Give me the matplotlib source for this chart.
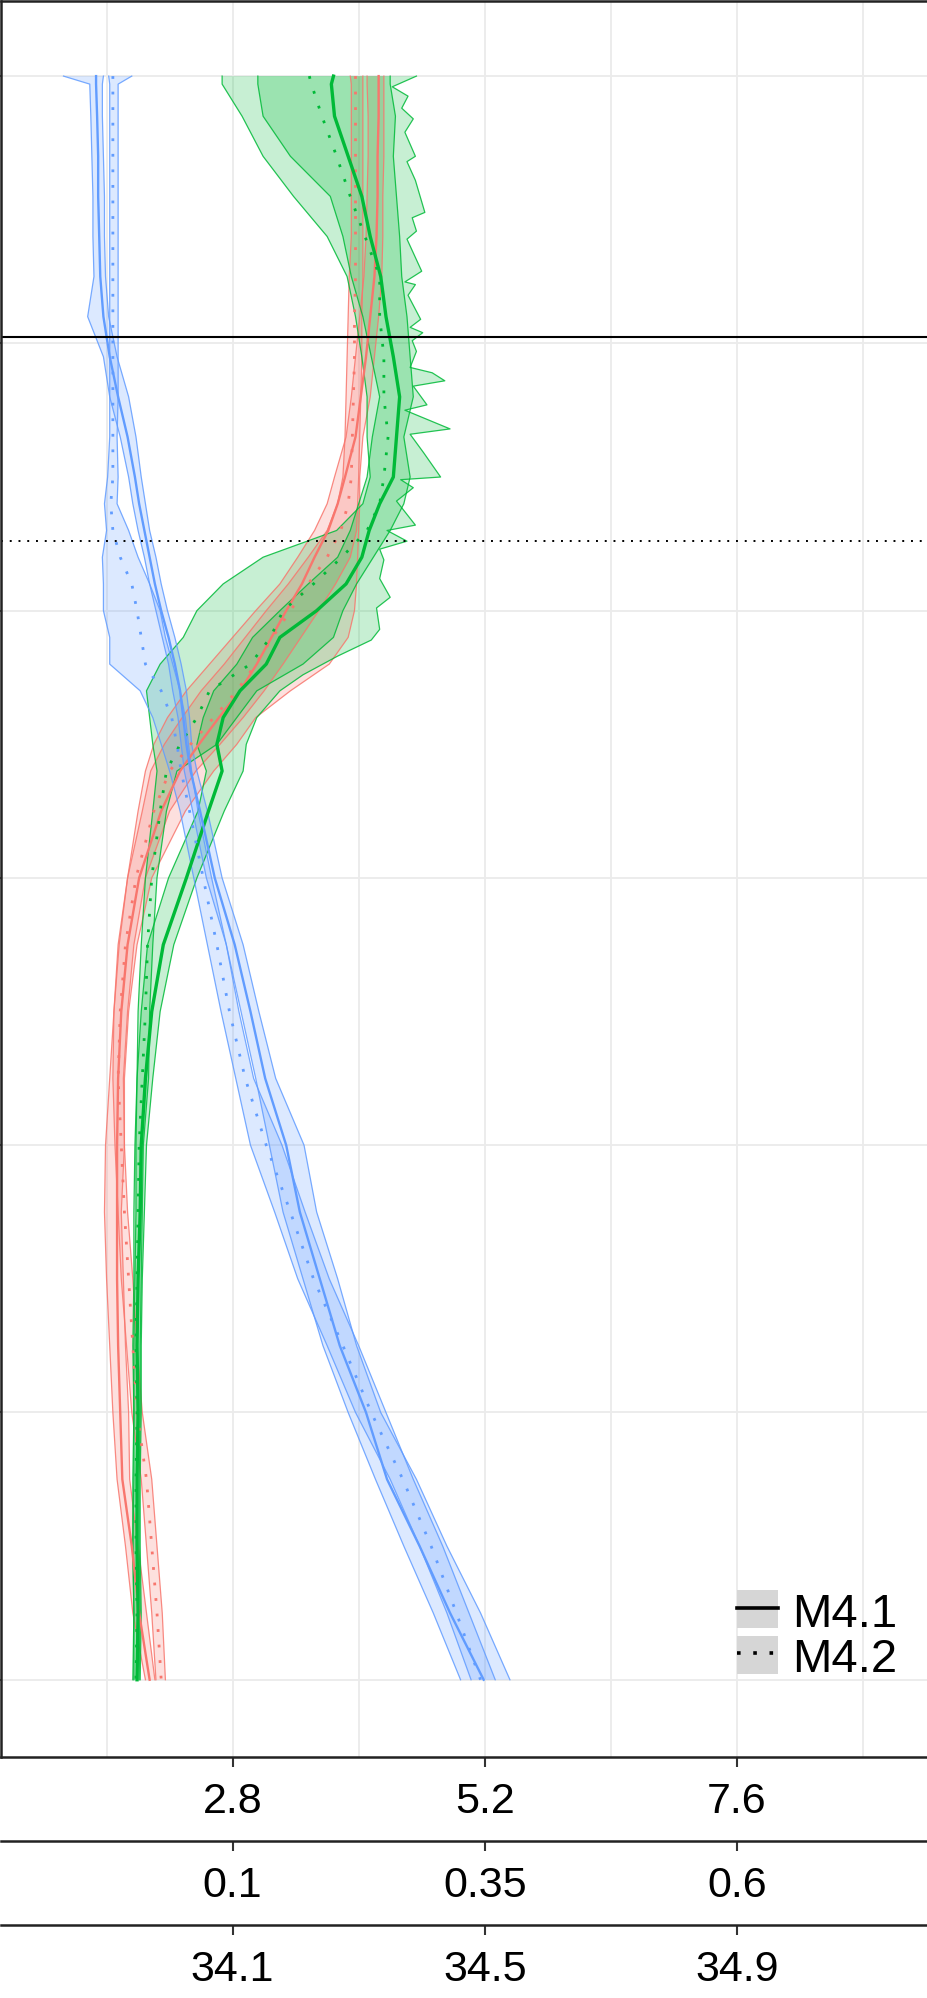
import matplotlib.pyplot as plt
from matplotlib.lines import Line2D
from matplotlib.patches import Patch

plt.rcParams['font.family'] = ['Liberation Sans', 'DejaVu Sans']

# depth in grid units (0 = top of profile, 6 = bottom)
depth = [0, 0.03, 0.15, 0.3, 0.45, 0.6, 0.75, 0.9, 1.05, 1.2, 1.35, 1.5, 1.6, 1.7, 1.8,
         1.9, 2.0, 2.1, 2.2, 2.3, 2.4, 2.5, 2.6, 2.75, 3.0, 3.25, 3.5, 3.75, 4.0, 4.25,
         4.5, 4.75, 5.0, 5.25, 5.5, 5.75, 6.0]

# values on the first (2.8 / 5.2 / 7.6) scale
red_m41 = [4.19, 4.19, 4.19, 4.18, 4.18, 4.17, 4.15, 4.11, 4.07, 4.02, 3.97, 3.87, 3.80, 3.71, 3.58,
           3.46, 3.31, 3.17, 3.03, 2.87, 2.67, 2.48, 2.30, 2.12, 1.91, 1.80, 1.74, 1.71, 1.70, 1.70,
           1.70, 1.71, 1.73, 1.75, 1.84, 1.91, 2.01]
red_m41_lo = [4.08, 4.08, 4.09, 4.09, 4.08, 4.07, 4.05, 4.01, 3.97, 3.93, 3.88, 3.77, 3.70, 3.58, 3.42,
              3.25, 3.02, 2.80, 2.58, 2.36, 2.18, 2.05, 1.97, 1.90, 1.80, 1.72, 1.67, 1.63, 1.59, 1.58,
              1.60, 1.63, 1.66, 1.70, 1.78, 1.85, 1.97]
red_m41_hi = [4.24, 4.24, 4.24, 4.24, 4.23, 4.23, 4.22, 4.19, 4.15, 4.11, 4.04, 4.01, 4.01, 4.00, 3.99,
              3.98, 3.96, 3.90, 3.72, 3.35, 3.02, 2.84, 2.62, 2.35, 2.03, 1.89, 1.81, 1.77, 1.77, 1.74,
              1.76, 1.78, 1.81, 1.82, 1.90, 1.98, 2.06]
red_m42 = [3.97, 3.97, 3.97, 3.97, 3.97, 3.97, 3.97, 3.96, 3.96, 3.95, 3.94, 3.93, 3.90, 3.83, 3.70,
           3.52, 3.35, 3.18, 3.02, 2.84, 2.62, 2.40, 2.20, 2.05, 1.88, 1.78, 1.73, 1.71, 1.74, 1.77,
           1.81, 1.85, 1.89, 1.98, 2.03, 2.08, 2.12]
red_m42_lo = [3.92, 3.93, 3.93, 3.93, 3.93, 3.93, 3.91, 3.90, 3.89, 3.88, 3.87, 3.85, 3.80, 3.70, 3.52,
              3.33, 3.12, 2.92, 2.72, 2.50, 2.32, 2.15, 2.02, 1.94, 1.80, 1.71, 1.67, 1.66, 1.68, 1.71,
              1.74, 1.79, 1.84, 1.93, 1.98, 2.03, 2.07]
red_m42_hi = [4.04, 4.04, 4.04, 4.04, 4.04, 4.04, 4.04, 4.03, 4.03, 4.02, 4.01, 4.00, 3.99, 3.98, 3.92,
              3.78, 3.62, 3.45, 3.28, 3.10, 2.90, 2.68, 2.45, 2.20, 1.97, 1.86, 1.80, 1.76, 1.77, 1.80,
              1.85, 1.89, 1.94, 2.03, 2.08, 2.13, 2.16]

green_m41 = [3.76, 3.74, 3.77, 3.90, 4.03, 4.11, 4.21, 4.26, 4.33, 4.39, 4.36, 4.33, 4.20, 4.10, 4.03,
             3.88, 3.60, 3.25, 3.12, 2.87, 2.71, 2.65, 2.70, 2.57, 2.36, 2.14, 2.03, 1.97, 1.93, 1.92,
             1.90, 1.89, 1.90, 1.89, 1.89, 1.90, 1.89]
green_m41_lo = [3.04, 3.04, 3.09, 3.35, 3.73, 3.85, 3.93, 4.04, 4.12, 4.20, 4.13, 4.08, 4.00, 3.92, 3.80,
                3.52, 3.25, 2.99, 2.84, 2.62, 2.52, 2.46, 2.55, 2.47, 2.19, 1.99, 1.93, 1.89, 1.88, 1.88,
                1.87, 1.86, 1.86, 1.86, 1.85, 1.86, 1.86]
# the spiky outer edge of the M4.1 green band has its own, finer depth steps
green_m41_hi_depth = [0.0, 0.04, 0.075, 0.12, 0.16, 0.21, 0.30, 0.32, 0.39, 0.51, 0.53, 0.58, 0.61,
                      0.73, 0.77, 0.78, 0.82, 0.91, 0.94, 0.96, 0.99, 1.03, 1.09, 1.11, 1.14, 1.16,
                      1.23, 1.25, 1.32, 1.34, 1.41, 1.50, 1.51, 1.54, 1.59, 1.68, 1.70, 1.74, 1.77,
                      1.81, 1.88, 1.95, 1.99, 2.07, 2.11, 2.17, 2.24, 2.3, 2.4, 2.5, 2.6, 2.75, 3.0,
                      3.25, 3.5, 3.75, 4.0, 4.25, 4.5, 4.75, 5.0, 5.25, 5.5, 5.75, 6.0]
green_m41_hi = [4.55, 4.32, 4.47, 4.41, 4.52, 4.44, 4.54, 4.46, 4.54, 4.63, 4.51, 4.55, 4.46,
                4.60, 4.44, 4.54, 4.47, 4.59, 4.49, 4.61, 4.51, 4.55, 4.49, 4.70, 4.82, 4.52,
                4.65, 4.44, 4.87, 4.49, 4.62, 4.78, 4.40, 4.52, 4.36, 4.54, 4.27, 4.46, 4.20,
                4.24, 4.20, 4.30, 4.17, 4.20, 4.12, 3.80, 3.47, 3.25, 3.03, 2.93, 2.90, 2.72, 2.46,
                2.24, 2.11, 2.04, 1.98, 1.96, 1.94, 1.93, 1.93, 1.92, 1.92, 1.93, 1.92]
green_m42 = [3.53, 3.55, 3.65, 3.79, 3.92, 4.06, 4.20, 4.20, 4.24, 4.24, 4.28, 4.24, 4.20, 4.08, 3.84,
             3.57, 3.28, 3.16, 2.97, 2.58, 2.46, 2.30, 2.17, 2.11, 2.03, 1.99, 1.97, 1.94, 1.91, 1.90,
             1.89, 1.88, 1.89, 1.88, 1.88, 1.89, 1.88]
green_m42_lo = [2.70, 2.70, 2.89, 3.09, 3.38, 3.70, 3.89, 3.97, 4.03, 4.08, 4.08, 4.11, 4.04, 3.79, 3.09,
                2.71, 2.46, 2.33, 2.11, 1.98, 2.01, 2.04, 2.08, 2.04, 1.97, 1.93, 1.90, 1.89, 1.87, 1.86,
                1.86, 1.85, 1.86, 1.85, 1.85, 1.86, 1.85]
green_m42_hi = [4.30, 4.30, 4.35, 4.33, 4.36, 4.39, 4.41, 4.46, 4.49, 4.52, 4.43, 4.49, 4.43, 4.30, 4.14,
                3.98, 3.85, 3.76, 3.47, 3.03, 2.84, 2.65, 2.27, 2.17, 2.08, 2.04, 2.01, 2.00, 1.95, 1.94,
                1.93, 1.92, 1.92, 1.91, 1.91, 1.92, 1.91]

blue_m41 = [1.50, 1.50, 1.51, 1.52, 1.52, 1.53, 1.54, 1.57, 1.63, 1.71, 1.80, 1.87, 1.91, 1.96, 2.01,
            2.06, 2.12, 2.19, 2.25, 2.30, 2.33, 2.36, 2.40, 2.49, 2.63, 2.82, 2.97, 3.11, 3.31, 3.44,
            3.63, 3.82, 4.07, 4.27, 4.58, 4.87, 5.19]
blue_m41_lo = [1.19, 1.44, 1.45, 1.46, 1.47, 1.47, 1.48, 1.42, 1.57, 1.63, 1.73, 1.81, 1.85, 1.90, 1.96,
               2.01, 2.07, 2.13, 2.19, 2.23, 2.28, 2.31, 2.34, 2.42, 2.55, 2.74, 2.88, 3.02, 3.15, 3.28,
               3.47, 3.66, 3.90, 4.16, 4.43, 4.71, 4.97]
blue_m41_hi = [1.57, 1.56, 1.56, 1.57, 1.58, 1.58, 1.59, 1.62, 1.70, 1.81, 1.88, 1.93, 1.97, 2.01, 2.07,
               2.12, 2.18, 2.25, 2.31, 2.36, 2.39, 2.41, 2.46, 2.56, 2.70, 2.90, 3.05, 3.21, 3.48, 3.60,
               3.80, 3.98, 4.21, 4.55, 4.84, 5.16, 5.44]
blue_m42 = [1.66, 1.66, 1.66, 1.66, 1.66, 1.66, 1.66, 1.66, 1.66, 1.66, 1.66, 1.66, 1.64, 1.66, 1.73,
            1.84, 1.89, 1.93, 1.97, 2.12, 2.22, 2.27, 2.31, 2.39, 2.52, 2.65, 2.77, 2.92, 3.12, 3.35,
            3.57, 3.85, 4.12, 4.42, 4.69, 4.93, 5.16]
blue_m42_lo = [1.62, 1.63, 1.63, 1.63, 1.63, 1.63, 1.63, 1.63, 1.63, 1.63, 1.63, 1.61, 1.58, 1.60, 1.56,
               1.57, 1.57, 1.63, 1.63, 1.92, 2.04, 2.12, 2.20, 2.30, 2.43, 2.56, 2.69, 2.83, 2.97, 3.20,
               3.42, 3.70, 3.97, 4.30, 4.58, 4.84, 5.07]
blue_m42_hi = [1.84, 1.71, 1.71, 1.71, 1.71, 1.71, 1.71, 1.71, 1.71, 1.71, 1.70, 1.71, 1.70, 1.81, 1.90,
               2.01, 2.11, 2.16, 2.23, 2.30, 2.35, 2.38, 2.41, 2.47, 2.60, 2.74, 2.86, 3.00, 3.27, 3.49,
               3.72, 4.00, 4.26, 4.52, 4.80, 5.05, 5.30]

# horizontal reference depths
solid_ref_depth = 0.977
dotted_ref_depth = 1.738

# tick labels for the three stacked x scales
ticks_1 = [2.8, 5.2, 7.6]
labels_1 = ['2.8', '5.2', '7.6']
ticks_2 = [0.1, 0.35, 0.6]
labels_2 = ['0.1', '0.35', '0.6']
ticks_3 = [34.1, 34.5, 34.9]
labels_3 = ['34.1', '34.5', '34.9']
model_labels = ['M4.1', 'M4.2']

RED, GREEN, BLUE = '#F8766D', '#00BA38', '#619CFF'
DOTS = (0, (1, 4.6))

fig = plt.figure(figsize=(9.28, 19.99), dpi=100)
ax = fig.add_axes([1 / 928, 1 - 1758 / 1999, 927 / 928, 1756 / 1999])

# mean, lower edge, upper edge, depth of lower edge, depth of upper edge, colour, style
series = [
    (red_m41, red_m41_lo, red_m41_hi, depth, depth, RED, '-'),
    (red_m42, red_m42_lo, red_m42_hi, depth, depth, RED, ':'),
    (green_m41, green_m41_lo, green_m41_hi, depth, green_m41_hi_depth, GREEN, '-'),
    (green_m42, green_m42_lo, green_m42_hi, depth, depth, GREEN, ':'),
    (blue_m41, blue_m41_lo, blue_m41_hi, depth, depth, BLUE, '-'),
    (blue_m42, blue_m42_lo, blue_m42_hi, depth, depth, BLUE, ':'),
]

for mean, lo, hi, lo_d, hi_d, col, ls in series:
    ax.fill(list(lo) + list(hi)[::-1], list(lo_d) + list(hi_d)[::-1],
            color=col, alpha=0.22, lw=0)
    ax.plot(lo, lo_d, color=col, lw=0.9, alpha=0.85)
    ax.plot(hi, hi_d, color=col, lw=0.9, alpha=0.85)

for mean, lo, hi, lo_d, hi_d, col, ls in series:
    if ls == '-':
        ax.plot(mean, depth, color=col, lw=2.4 if col == GREEN else 1.7)
    else:
        ax.plot(mean, depth, color=col, lw=2.0, linestyle=DOTS)

ax.axhline(solid_ref_depth, color='black', lw=1.5)
ax.axhline(dotted_ref_depth, color='black', lw=1.4, linestyle=(0, (1, 3.5)))

ax.set_xlim(0.595, 9.42)
ax.set_ylim(6.289, -0.281)
ax.set_xticks(ticks_1)
ax.set_xticklabels(labels_1)
ax.set_xticks([1.6, 4.0, 6.4, 8.8], minor=True)
ax.set_yticks(range(7))
ax.set_yticklabels([])
ax.grid(which='both', color='#ebebeb', lw=1.3)
ax.set_axisbelow(True)

for side in ['top', 'left', 'bottom']:
    ax.spines[side].set_color('#222222')
    ax.spines[side].set_linewidth(1.8)
ax.spines['right'].set_visible(False)
ax.tick_params(axis='x', which='major', length=7.5, width=1.5, color='#333333', labelsize=31, pad=10)
ax.tick_params(axis='x', which='minor', length=0)
ax.tick_params(axis='y', length=5, width=1.2, color='#333333')


def to_scale2(x):
    return 0.1 + (x - 2.8) * 0.25 / 2.4


def from_scale2(v):
    return 2.8 + (v - 0.1) * 2.4 / 0.25


def to_scale3(x):
    return 34.1 + (x - 2.8) * 0.4 / 2.4


def from_scale3(v):
    return 2.8 + (v - 34.1) * 2.4 / 0.4


for loc, fwd, inv, ticks, labels in [(-0.0478, to_scale2, from_scale2, ticks_2, labels_2),
                                     (-0.0957, to_scale3, from_scale3, ticks_3, labels_3)]:
    sec = ax.secondary_xaxis(loc, functions=(fwd, inv))
    sec.set_xticks(ticks)
    sec.set_xticklabels(labels)
    sec.spines['bottom'].set_color('#222222')
    sec.spines['bottom'].set_linewidth(1.8)
    sec.tick_params(axis='x', length=7.5, width=1.5, color='#333333', labelsize=31, pad=10)

key_fill = '#d6d6d6'
handles = [
    (Patch(facecolor=key_fill, edgecolor='none'), Line2D([], [], color='black', lw=2.6)),
    (Patch(facecolor=key_fill, edgecolor='none'), Line2D([], [], color='black', lw=2.6, linestyle=(0, (1, 3.5)))),
]
ax.legend(handles, model_labels, loc='lower left', bbox_to_anchor=(737 / 928, 1 - 1682 / 1999),
          bbox_transform=fig.transFigure, frameon=False, fontsize=34, handlelength=0.87,
          handleheight=0.87, handletextpad=0.3, labelspacing=0.0, borderpad=0, borderaxespad=0)

fig.savefig('out.png', dpi=100)
